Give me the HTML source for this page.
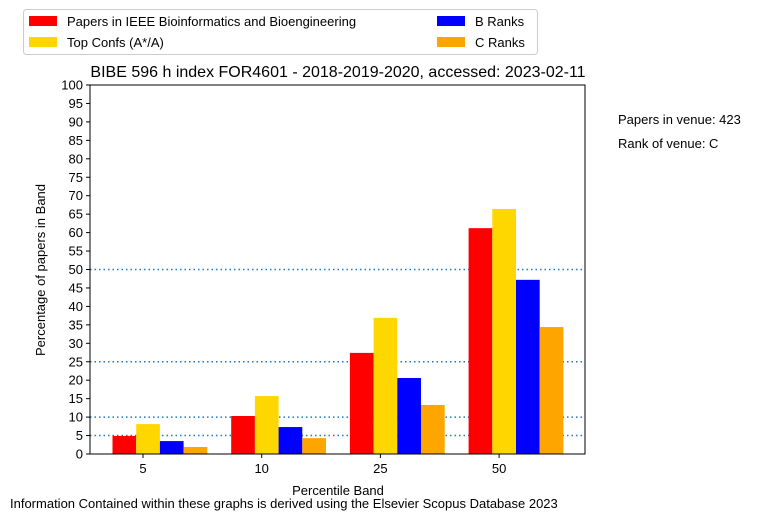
<!DOCTYPE html>
<html><head><meta charset="utf-8"><style>
body{margin:0;background:#fff;width:773px;height:520px;overflow:hidden}
svg{font-family:"Liberation Sans","DejaVu Sans",sans-serif}
</style></head><body>
<svg id="chart" width="773" height="520">
<g>
<rect x="23.5" y="9.5" width="514" height="45" fill="#fff" stroke="#ccc" rx="3"/>
<rect x="29" y="16" width="28" height="10" fill="red"/><text x="67" y="26" font-size="13">Papers in IEEE Bioinformatics and Bioengineering</text>
<rect x="29" y="37" width="28" height="10" fill="gold"/><text x="67" y="47" font-size="13">Top Confs (A*/A)</text>
<rect x="437" y="16" width="28" height="10" fill="blue"/><text x="475" y="26" font-size="13">B Ranks</text>
<rect x="437" y="37" width="28" height="10" fill="orange"/><text x="475" y="47" font-size="13">C Ranks</text>
</g>
<text x="338" y="77" text-anchor="middle" font-size="16">BIBE 596 h index FOR4601 - 2018-2019-2020, accessed: 2023-02-11</text>
<text x="618" y="124" font-size="13">Papers in venue: 423</text>
<text x="618" y="148" font-size="13">Rank of venue: C</text>
<text x="338" y="495" text-anchor="middle" font-size="13">Percentile Band</text>
<text transform="translate(45,270) rotate(-90)" text-anchor="middle" font-size="13">Percentage of papers in Band</text>
<text x="10" y="508" font-size="13">Information Contained within these graphs is derived using the Elsevier Scopus Database 2023</text>
<g id="plot"></g>
</svg>
<script>
const categories=["5","10","25","50"];
const papers=[4.9,10.3,27.4,61.2];
const topConfs=[8.1,15.7,36.9,66.4];
const bRanks=[3.5,7.3,20.6,47.2];
const cRanks=[1.9,4.3,13.3,34.4];
const yTicks=[0,5,10,15,20,25,30,35,40,45,50,55,60,65,70,75,80,85,90,95,100];
const refLines=[5,10,25,50];
const NS="http://www.w3.org/2000/svg";
const L=90,R=585,T=85,B=454;
const y=v=>B-(v/100)*(B-T);
const xt=i=>143+i*118.7;
const bw=23.7;
const g=document.getElementById('plot');
function mk(t,a){const e=document.createElementNS(NS,t);for(const k in a)e.setAttribute(k,a[k]);g.appendChild(e);return e;}
refLines.forEach(v=>{const l=mk('line',{x1:L,x2:R,y1:y(v),y2:y(v),stroke:'#1f77b4','stroke-width':1.5,'stroke-dasharray':'1.5,3'});

});
const series=[[papers,'red','papers'],[topConfs,'gold','top-confs'],[bRanks,'blue','b-ranks'],[cRanks,'orange','c-ranks']];
series.forEach((s,si)=>{s[0].forEach((v,i)=>{const x0=xt(i)-30.5+si*bw;
const r=mk('rect',{x:x0,y:y(v),width:bw,height:B-y(v),fill:s[1]});

});});
mk('rect',{x:L,y:T,width:R-L,height:B-T,fill:'none',stroke:'#000','stroke-width':1});
yTicks.forEach(v=>{mk('line',{x1:L-4,x2:L,y1:y(v),y2:y(v),stroke:'#000'});
const t=mk('text',{x:L-7,y:y(v)+4.5,'text-anchor':'end','font-size':13});t.textContent=v;

});
categories.forEach((c,i)=>{mk('line',{x1:xt(i),x2:xt(i),y1:B,y2:B+4,stroke:'#000'});
const t=mk('text',{x:xt(i),y:B+19,'text-anchor':'middle','font-size':13});t.textContent=c;

});
</script>
</body></html>
